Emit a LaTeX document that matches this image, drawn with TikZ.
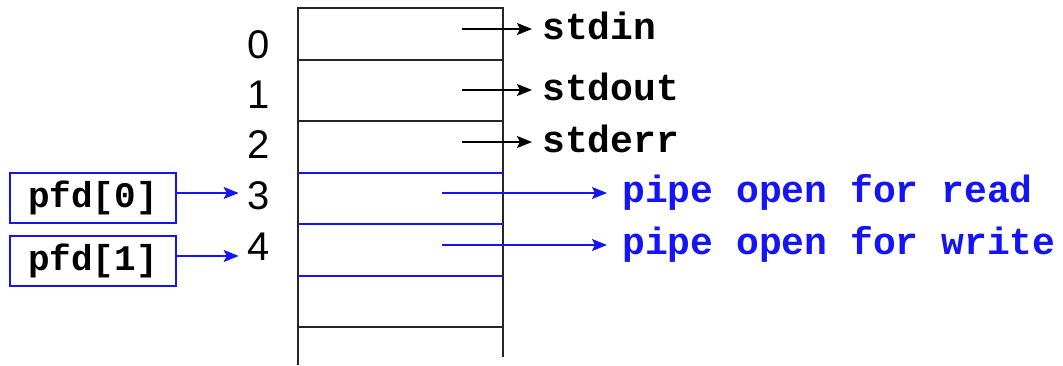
\documentclass[tikz,border=0pt]{standalone}
\usepackage{fontspec}
\setmainfont{Liberation Sans}
\setmonofont{Liberation Mono}
\usetikzlibrary{arrows.meta}
\definecolor{fdblue}{RGB}{20,20,245}
\begin{document}
\begin{tikzpicture}[x=1pt,y=-1pt,
  tblline/.style={line width=2pt,black!85},
  pipeline/.style={line width=2pt,fdblue},
  fdnum/.style={inner sep=0pt,font=\fontsize{40}{44}\selectfont},
  stdname/.style={inner sep=0pt,anchor=base west,font=\fontsize{38}{40}\selectfont\ttfamily\bfseries},
  pipename/.style={stdname,text=fdblue},
  pfdbox/.style={draw=fdblue,line width=2pt,minimum width=166pt,minimum height=50pt,inner sep=0pt,
    font=\fontsize{36}{40}\selectfont\ttfamily\bfseries},
  fdtip/.style={-{Stealth[length=15pt,width=12pt,inset=3pt]}},
  stdarrow/.style={fdtip,line width=1.8pt,black},
  pipearrow/.style={fdtip,line width=1.8pt,fdblue},
]
\useasboundingbox (0,0) rectangle (1063,365);

% descriptor table
\draw[tblline] (298,365) -- (298,8) -- (503,8) -- (503,357);
\draw[tblline] (298,60) -- (503,60);
\draw[tblline] (298,121) -- (503,121);
\draw[pipeline] (298,173) -- (503,173);
\draw[pipeline] (298,224) -- (503,224);
\draw[pipeline] (298,276) -- (503,276);
\draw[tblline] (298,327) -- (503,327);

% descriptor numbers
\node[fdnum] (d0) at (259,45) {0};
\node[fdnum] (d1) at (259,95) {1};
\node[fdnum] (d2) at (259,145) {2};
\node[fdnum] (d3) at (259,196) {3};
\node[fdnum] (d4) at (259,247) {4};

% pipe descriptor array
\node[pfdbox] (p0) at (93,198) {pfd[0]};
\node[pfdbox] (p1) at (93,261) {pfd[1]};
\draw[pipearrow,shorten >=9pt] ([yshift=5pt]p0.east) -- ([yshift=5pt]p0.east -| d3.west);
\draw[pipearrow,shorten >=9pt] ([yshift=5pt]p1.east) -- ([yshift=5pt]p1.east -| d4.west);

% arrow start points inside the table
\coordinate (s0) at (462,29);
\coordinate (s1) at (462,90);
\coordinate (s2) at (462,142);
\coordinate (s3) at (442,193);
\coordinate (s4) at (442,245);

% targets
\node[stdname] (in) at (542,39) {stdin};
\node[stdname] (out) at (542,100) {stdout};
\node[stdname] (err) at (542,152) {stderr};
\node[pipename] (rd) at (622,202) {pipe open for read};
\node[pipename] (wr) at (622,254) {pipe open for write};

\draw[stdarrow,shorten >=10pt] (s0) -- (s0 -| in.west);
\draw[stdarrow,shorten >=10pt] (s1) -- (s1 -| out.west);
\draw[stdarrow,shorten >=10pt] (s2) -- (s2 -| err.west);
\draw[pipearrow,shorten >=15pt] (s3) -- (s3 -| rd.west);
\draw[pipearrow,shorten >=15pt] (s4) -- (s4 -| wr.west);
\end{tikzpicture}
\end{document}
